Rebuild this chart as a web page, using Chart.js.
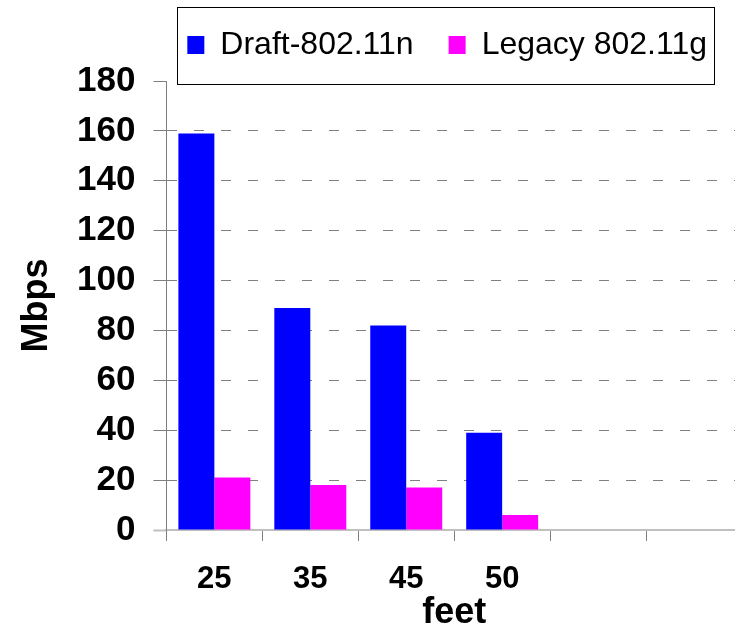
<!DOCTYPE html>
<html>
<head>
<meta charset="utf-8">
<title>Draft-802.11n vs Legacy 802.11g</title>
<script src="https://cdn.jsdelivr.net/npm/chart.js@4.4.1/dist/chart.umd.min.js"></script>
<style>
    html, body { margin: 0; padding: 0; background: #fff; overflow: hidden; }
    #wrap { width: 735px; height: 627px; overflow: hidden; }
    canvas { display: block; }
</style>
</head>
<body>
<div id="wrap"><canvas id="throughputChart" width="750" height="627"></canvas></div>
<script>
// ---------- data ----------
const distances = ["25", "35", "45", "50", "", ""];
const draftN = [159, 89, 82, 39, null, null];
const legacyG = [21, 18, 17, 6, null, null];
const yTicks = [0, 20, 40, 60, 80, 100, 120, 140, 160, 180];

Chart.defaults.font.family = "'Liberation Sans', Arial, sans-serif";
Chart.defaults.color = "#000000";

// legend gets a little extra room below it
const legendSpacer = {
    id: "legendSpacer",
    beforeInit(chart) {
        const fit = chart.legend.fit;
        chart.legend.fit = function () {
            fit.call(this);
            this.height += 10;
        };
    }
};

// thin frame around the legend items
const legendFrame = {
    id: "legendFrame",
    afterDraw(chart) {
        const boxes = chart.legend.legendHitBoxes;
        if (!boxes || !boxes.length) return;
        const first = boxes[0];
        const last = boxes[boxes.length - 1];
        const mid = first.top + first.height / 2;
        const left = Math.round(first.left - 10) + 0.5;
        const right = Math.round(last.left + last.width + 7) + 0.5;
        const top = Math.round(mid - 38.5) + 0.5;
        const ctx = chart.ctx;
        ctx.save();
        ctx.strokeStyle = "#000000";
        ctx.lineWidth = 1;
        ctx.strokeRect(left, top, right - left, 77);
        ctx.restore();
    }
};

const chart = new Chart(document.getElementById("throughputChart"), {
    type: "bar",
    data: {
        labels: distances,
        datasets: [{
            label: "Draft-802.11n",
            data: draftN,
            backgroundColor: "#0000ff",
            borderWidth: 0,
            categoryPercentage: 0.75,
            barPercentage: 1.0
        }, {
            label: "Legacy 802.11g",
            data: legacyG,
            backgroundColor: "#ff00ff",
            borderWidth: 0,
            categoryPercentage: 0.75,
            barPercentage: 1.0
        }]
    },
    options: {
        responsive: false,
        animation: false,
        layout: {
            padding: { top: -6, left: 10, right: 8, bottom: -4 }
        },
        plugins: {
            legend: {
                position: "top",
                align: "end",
                labels: {
                    boxWidth: 17,
                    boxHeight: 18,
                    padding: 35,
                    font: { size: 32 }
                }
            },
            tooltip: { enabled: false }
        },
        scales: {
            x: {
                grid: {
                    offset: true,
                    drawOnChartArea: false,
                    tickLength: 11,
                    tickColor: "#808080",
                    tickWidth: 1
                },
                border: { color: "#c0c0c0", width: 2 },
                ticks: {
                    maxRotation: 0,
                    autoSkip: false,
                    padding: 23,
                    font: { size: 31, weight: "bold", lineHeight: 1 }
                },
                title: {
                    display: true,
                    text: "feet",
                    font: { size: 36, weight: "bold", lineHeight: 1 },
                    padding: { top: -23, bottom: 0 }
                }
            },
            y: {
                min: 0,
                max: 180,
                afterBuildTicks(scale) {
                    scale.ticks = yTicks.map(v => ({ value: v }));
                },
                grid: {
                    color: ctx => (ctx.tick.value === 0 || ctx.tick.value === 180) ? "rgba(0,0,0,0)" : "#808080",
                    tickColor: ctx => ctx.tick.value === 0 ? "#c0c0c0" : "#808080",
                    tickWidth: ctx => ctx.tick.value === 0 ? 2 : 1,
                    lineWidth: 1,
                    tickLength: 13,
                    tickBorderDash: []
                },
                border: { color: "#808080", width: 1, dash: [10, 17] },
                ticks: {
                    padding: 18,
                    font: { size: 35, weight: "bold" }
                },
                title: {
                    display: true,
                    text: "Mbps",
                    font: { size: 36, weight: "bold", lineHeight: 1 },
                    padding: { top: 9, bottom: 4 }
                }
            }
        }
    },
    plugins: [legendSpacer, legendFrame]
});
</script>
</body>
</html>
